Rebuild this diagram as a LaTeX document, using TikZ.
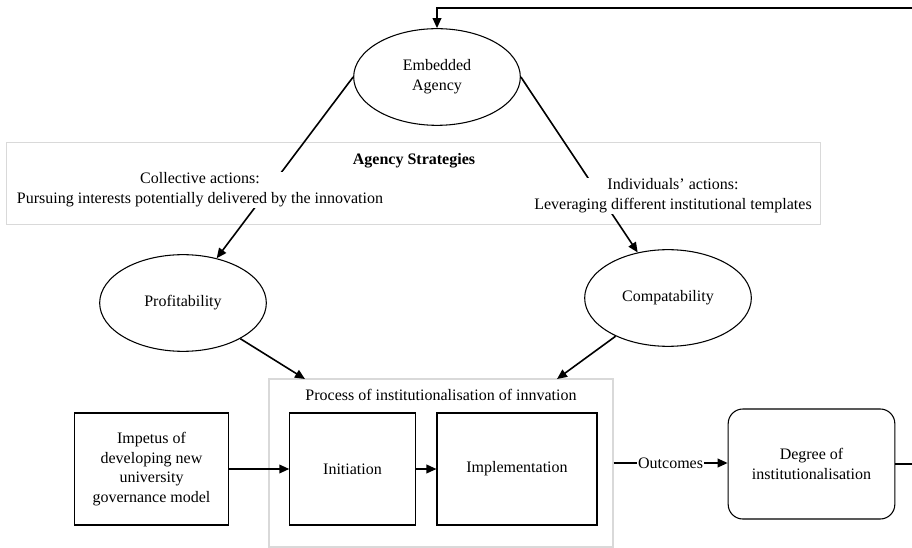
\documentclass[tikz,border=0pt]{standalone}
\usepackage{fontspec}
\setmainfont{Liberation Serif}
\usetikzlibrary{arrows.meta,positioning,shapes.geometric}

\begin{document}
\begin{tikzpicture}[
  x=0.75pt, y=-0.75pt,
  every node/.style={font=\fontsize{12}{14.8}\selectfont},
  actor/.style={draw, ellipse, line width=0.8pt, inner sep=0pt, minimum width=125pt, minimum height=72.5pt, align=center},
  stepbox/.style={draw, line width=0.8pt, align=center, inner sep=2pt, minimum height=84pt},
  frame/.style={draw=black!15, line width=0.8pt, inner sep=0pt},
  note/.style={fill=white, align=center, inner sep=1pt},
  edge/.style={-{Triangle[length=7.5pt,width=6.5pt]}, line width=1.2pt}
]
\useasboundingbox (0,0) rectangle (912,548);

% grouping frames
\node[frame, minimum width=610pt, minimum height=61pt] (strategies) at (413.5,183.5) {};
\node[frame, minimum width=258pt, minimum height=126pt] (process) at (441,463) {};
\node[font=\fontsize{12}{14}\selectfont\bfseries] (stratitle) at (414,161) {Agency Strategies};
\node (proctitle) at (441,395) {Process of institutionalisation of innvation};

% agency and conditions
\node[actor] (embedded) at (437,77) {Embedded\\Agency};
\node[actor] (profit) at (183,303) {Profitability};
\node[actor] (compat) at (668,298) {Compatability};

% process steps
\node[stepbox, minimum width=116pt] (impetus) at (151.5,469) {Impetus of\\developing new\\university\\governance model};
\node[stepbox, minimum width=94pt] (initiation) at (352.5,469) {Initiation};
\node[stepbox, minimum width=120pt] (implement) at (517,469) {Implementation};
\node[stepbox, rounded corners=11pt, minimum width=125pt, minimum height=82.5pt] (degree) at (811.5,464) {Degree of\\institutionalisation};

\coordinate (procin1) at (305,379);
\coordinate (procin2) at (557,379);
\coordinate (fbk) at (916,8);

\draw[edge] (embedded.west) -- (profit);
\draw[edge] (embedded.east) -- (compat);
\draw[edge] (profit) -- (procin1);
\draw[edge] (compat) -- (procin2);
\draw[edge] (impetus) -- (initiation);
\draw[edge] (initiation) -- (implement);
\draw[edge] (process.east) -- node[fill=white, inner sep=1pt] (outlabel) {Outcomes} (degree.west |- process.east);
\draw[edge] (degree.east) -| (fbk) -| (embedded.north);

% strategy labels over the lines
\node[note] (collective) at (200,190) {Collective actions:\\Pursuing interests potentially delivered by the innovation};
\node[note] (individual) at (673,196) {Individuals’ actions:\\Leveraging different institutional templates};
\end{tikzpicture}
\end{document}
